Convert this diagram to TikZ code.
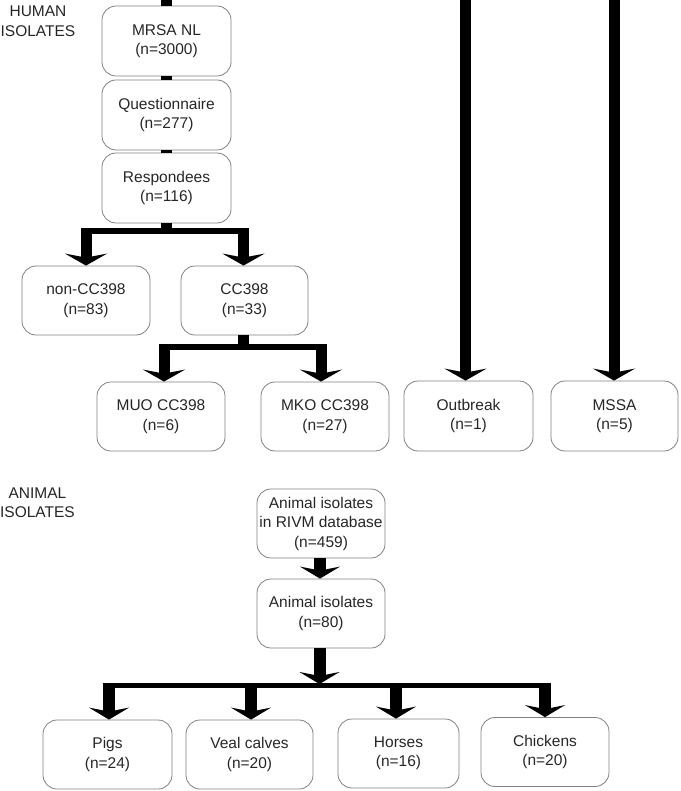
\documentclass[tikz,border=0pt]{standalone}
\usepackage{fontspec}
\setmainfont{Liberation Sans}
\usetikzlibrary{arrows.meta}
\begin{document}
\begin{tikzpicture}[x=1pt,y=-1pt,
  box/.style={draw=black!50, line width=0.8pt, rounded corners=14pt, minimum height=70pt,
    inner sep=0pt, align=center, text=black!85, font=\fontsize{15.5}{19.5}\selectfont},
  lbl/.style={inner sep=0pt, align=center, text=black!85, font=\fontsize{15.5}{19.5}\selectfont},
  shaft/.style={draw=black, line width=11pt},
  arr/.style={shaft, -{Stealth[length=12pt,width=42pt,inset=4pt]}},
  arrb/.style={draw=black, line width=12pt, -{Stealth[length=12pt,width=40pt,inset=4pt]}},
  hbar/.style={draw=black, line width=6pt},
  hbarb/.style={draw=black, line width=5pt}]
\useasboundingbox (0,0) rectangle (680,791);

% labels
\node[lbl] (hum) at (38,21) {HUMAN\\ISOLATES};
\node[lbl] (ani) at (37.5,502.5) {ANIMAL\\ISOLATES};

% human boxes
\node[box, minimum width=129pt] (mrsa) at (166.5,41) {MRSA NL\\(n=3000)};
\node[box, minimum width=129pt] (quest) at (166.5,115) {Questionnaire\\(n=277)};
\node[box, minimum width=129pt] (resp) at (166.5,188) {Respondees\\(n=116)};
\node[box, minimum width=128pt, minimum height=69pt] (noncc) at (86,300.5) {non-CC398\\(n=83)};
\node[box, minimum width=127pt, minimum height=69pt] (cc) at (244.5,300.5) {CC398\\(n=33)};
\node[box, minimum width=128pt, minimum height=69pt] (muo) at (161,416.5) {MUO CC398\\(n=6)};
\node[box, minimum width=128pt, minimum height=69pt] (mko) at (325,416.5) {MKO CC398\\(n=27)};
\node[box, minimum width=129pt] (outb) at (468.5,416) {Outbreak\\(n=1)};
\node[box, minimum width=127pt] (mssa) at (614.5,416) {MSSA\\(n=5)};

% animal boxes
\node[box, minimum width=128pt, minimum height=69pt] (rivm) at (321,523.5) {Animal isolates\\in RIVM database\\(n=459)};
\node[box, minimum width=128pt, minimum height=69pt] (anim) at (321,613.5) {Animal isolates\\(n=80)};
\node[box, minimum width=129pt, minimum height=69pt] (pigs) at (107.5,754.5) {Pigs\\(n=24)};
\node[box, minimum width=127pt, minimum height=69pt] (veal) at (249.5,754.5) {Veal calves\\(n=20)};
\node[box, minimum width=121pt, minimum height=69pt] (horses) at (398.5,753.5) {Horses\\(n=16)};
\node[box, minimum width=128pt, minimum height=69pt] (chick) at (545,752) {Chickens\\(n=20)};

% human connectors
\coordinate (top1) at (166.5,0);
\draw[shaft] (top1) -- (mrsa.north);
\draw[shaft] (mrsa.south) -- (quest.north);
\draw[shaft] (quest.south) -- (resp.north);

\coordinate (rb) at (166.5,231);
\coordinate (rbl) at (80.5,231);
\coordinate (rbr) at (249,231);
\coordinate (rl) at (86,228);
\coordinate (rr) at (243.5,228);
\draw[shaft] (resp.south) -- (rb);
\draw[hbar] (rbl) -- (rbr);
\draw[arr] (rl) -- (rl |- noncc.north);
\draw[arr] (rr) -- (rr |- cc.north);

\coordinate (cb) at (243.5,346.5);
\coordinate (cbl) at (158.5,346.5);
\coordinate (cbr) at (326.5,346.5);
\coordinate (cl) at (164,343.5);
\coordinate (cr) at (321,343.5);
\draw[shaft] (cb |- cc.south) -- (cb);
\draw[hbar] (cbl) -- (cbr);
\draw[arr] (cl) -- (cl |- muo.north);
\draw[arr] (cr) -- (cr |- mko.north);

\coordinate (ot) at (465.5,0);
\coordinate (mt) at (614,0);
\draw[arr] (ot) -- (ot |- outb.north);
\draw[arr] (mt) -- (mt |- mssa.north);

% animal connectors
\coordinate (ra) at (320,558);
\draw[arrb] (ra |- rivm.south) -- (ra |- anim.north);
\coordinate (as) at (319.5,648);
\coordinate (ab) at (319.5,684);
\draw[arrb] (as |- anim.south) -- (ab);
\coordinate (abl) at (103,685);
\coordinate (abr) at (551,685);
\draw[hbarb] (abl) -- (abr);
\coordinate (p1) at (109,683);
\coordinate (p2) at (251,683);
\coordinate (p3) at (396,683);
\coordinate (p4) at (545,683);
\draw[arrb] (p1) -- (p1 |- pigs.north);
\draw[arrb] (p2) -- (p2 |- veal.north);
\draw[arrb] (p3) -- (p3 |- horses.north);
\draw[arrb] (p4) -- (p4 |- chick.north);
\end{tikzpicture}
\end{document}
